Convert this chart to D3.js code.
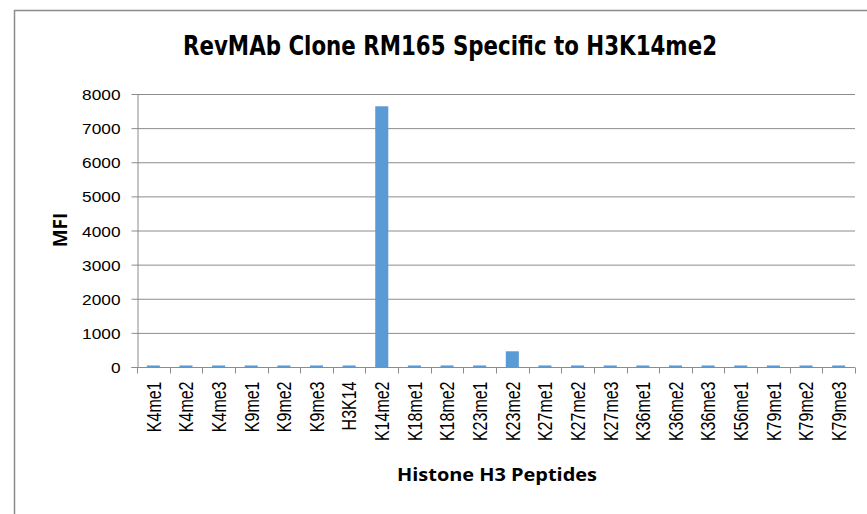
<!DOCTYPE html>
<html>
<head>
<meta charset="utf-8">
<script src="https://cdn.jsdelivr.net/npm/d3@7"></script>
<style>
  body { margin: 0; background: #fff; }
  .tick text { font-family: "Liberation Sans", Arial, sans-serif; font-size: 15.5px; fill: #000; }
</style>
</head>
<body>
<div class="container"></div>
<script>
let peptides = ["K4me1","K4me2","K4me3","K9me1","K9me2","K9me3","H3K14","K14me2","K18me1","K18me2","K23me1","K23me2","K27me1","K27me2","K27me3","K36me1","K36me2","K36me3","K56me1","K79me1","K79me2","K79me3"];
let mfi = [45,45,45,45,45,45,45,7640,45,45,45,460,45,45,45,45,45,45,45,45,45,45];
let yTicks = [0,1000,2000,3000,4000,5000,6000,7000,8000];

let W = 867, H = 514;
let margin = {top: 94, right: 12, bottom: 147, left: 137},
  width = W - margin.left - margin.right,
  height = H - margin.top - margin.bottom;

let root = d3.select(".container").append("svg")
    .attr("width", W)
    .attr("height", H);

// chart area border
root.append("rect")
    .attr("x", 14.5).attr("y", 10.5)
    .attr("width", W).attr("height", H)
    .style("fill", "none")
    .style("stroke", "#8c8c8c")
    .style("stroke-width", 1.5);

let svg = root.append("g")
    .attr("transform", "translate(" + margin.left + "," + margin.top + ")");

let x = d3.scaleBand().domain(peptides).range([0, width]).paddingInner(0.6).paddingOuter(0.3);
let y = d3.scaleLinear().domain([0, 8000]).range([height, 0]);

// gridlines
svg.append("g")
  .selectAll("line")
  .data(yTicks.slice(1))
  .enter().append("line")
    .attr("x1", 0).attr("x2", width)
    .attr("y1", d => y(d) + 0.5).attr("y2", d => y(d) + 0.5)
    .style("stroke", "#8c8c8c")
    .style("stroke-width", 1);

// bars
svg.append("g")
  .selectAll("rect")
  .data(peptides)
  .enter().append("rect")
    .attr("x", d => x(d))
    .attr("y", (d, i) => y(mfi[i]))
    .attr("width", x.bandwidth())
    .attr("height", (d, i) => height - y(mfi[i]))
    .style("fill", "#5b9bd5");

// y axis
let yAxis = svg.append("g")
    .attr("transform", "translate(0.5,0)")
    .call(d3.axisLeft(y).tickValues(yTicks).tickFormat(d3.format("d")).tickSize(6).tickPadding(11));
yAxis.selectAll("line, path").style("stroke", "#8c8c8c");
yAxis.select(".domain").attr("d", "M-6," + (height + 0.5) + "H0.5V0.5");
yAxis.selectAll(".tick text")
    .attr("dy", "0.36em")
    .attr("textLength", d => String(d).length * 9.6)
    .attr("lengthAdjust", "spacingAndGlyphs");

// x axis: ticks between categories
let xg = svg.append("g").attr("transform", "translate(0," + (height + 0.5) + ")");
xg.append("line")
    .attr("x1", 0).attr("x2", width)
    .style("stroke", "#8c8c8c");
xg.selectAll(".sep")
  .data(d3.range(peptides.length + 1))
  .enter().append("line")
    .attr("x1", d => Math.round(d * width / peptides.length) + 0.5)
    .attr("x2", d => Math.round(d * width / peptides.length) + 0.5)
    .attr("y1", 0).attr("y2", 6)
    .style("stroke", "#8c8c8c");
xg.selectAll(".lab")
  .data(peptides)
  .enter().append("text")
    .attr("transform", d => "translate(" + (x(d) + x.bandwidth() / 2) + ",14) rotate(-90) scale(1,1.3)")
    .attr("text-anchor", "end")
    .attr("dy", "0.35em")
    .style("font-family", "'Liberation Sans', Arial, sans-serif")
    .style("font-size", "16px")
    .text(d => d);

// title
root.append("text")
    .text("RevMAb Clone RM165 Specific to H3K14me2")
    .attr("x", 450).attr("y", 55)
    .attr("text-anchor", "middle")
    .attr("textLength", 534)
    .attr("lengthAdjust", "spacingAndGlyphs")
    .style("font-family", "'Liberation Sans Narrow', 'DejaVu Sans Condensed', sans-serif")
    .style("font-weight", "bold")
    .style("font-size", "26px");

// axis titles
root.append("text")
    .text("Histone H3 Peptides")
    .attr("x", 497).attr("y", 481)
    .attr("text-anchor", "middle")
    .attr("textLength", 200)
    .attr("lengthAdjust", "spacingAndGlyphs")
    .style("font-family", "'Open Sans', sans-serif")
    .style("font-weight", "bold")
    .style("font-size", "18px");

root.append("text")
    .text("MFI")
    .attr("transform", "translate(67,230) rotate(-90)")
    .attr("text-anchor", "middle")
    .style("font-family", "'Open Sans', sans-serif")
    .style("font-weight", "bold")
    .style("font-size", "19px");
</script>
</body>
</html>
